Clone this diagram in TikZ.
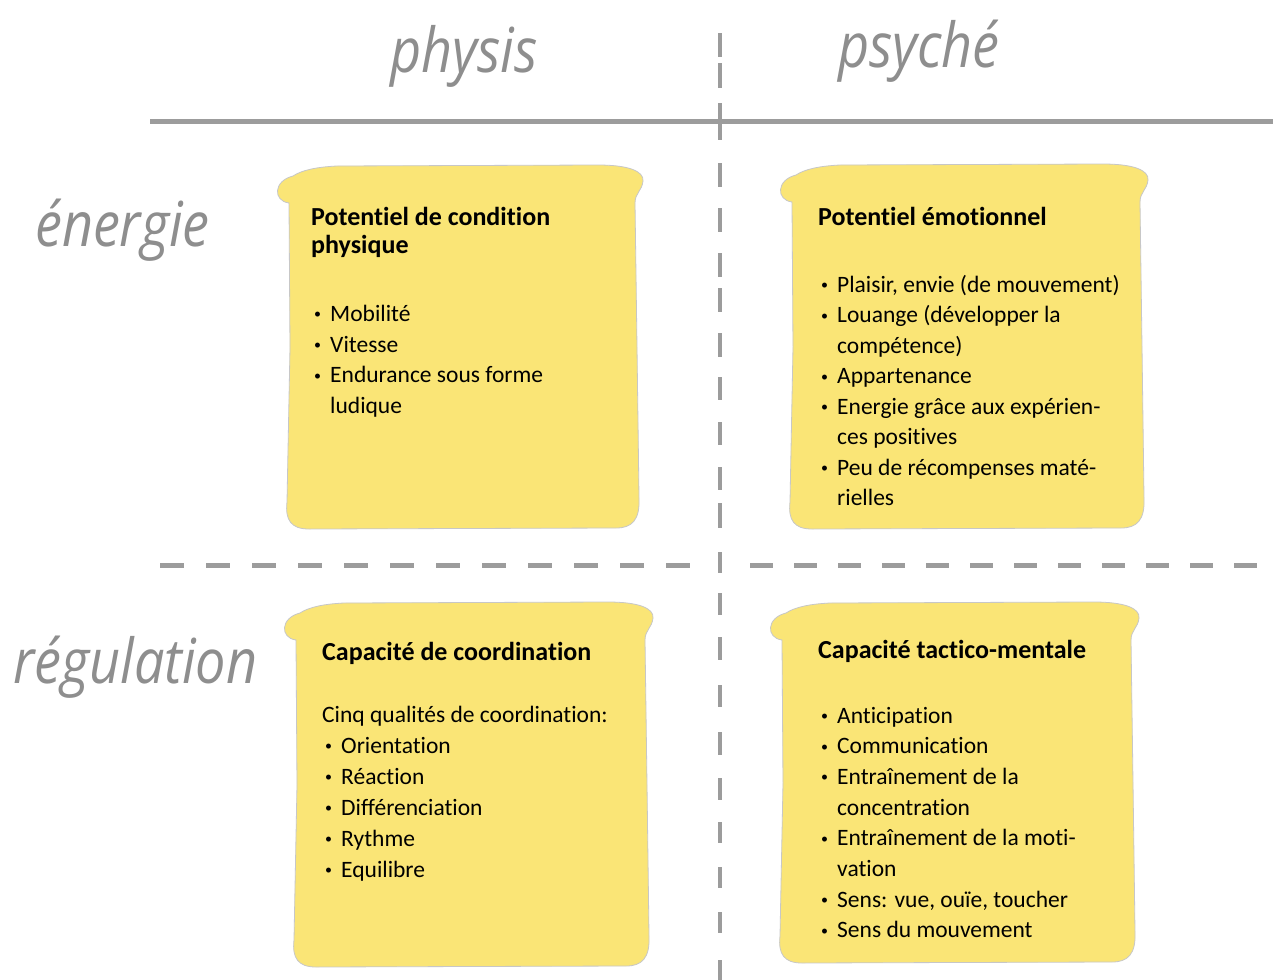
\documentclass[tikz,border=0pt]{standalone}
\usepackage{fontspec}
\setmainfont[Ligatures=CommonOff]{Carlito}
\newfontfamily\hand[FakeStretch=0.87]{Open Sans}
\definecolor{boxyellow}{HTML}{FAE576}
\definecolor{linegray}{HTML}{9C9C9C}
\definecolor{handgray}{HTML}{8E8E8E}
\newcommand\yblob[4]{% L T R B
\path[blob] ({#1+2},{#2+36})
 .. controls ({#1-14},{#2+34}) and ({#1-14},{#2+14}) .. ({#1+6},{#2+9})
 .. controls ({#1+15},{#2+3}) and ({#1+30},{#2}) .. ({#1+50},{#2-1})
 -- ({#3-40},{#2-2})
 .. controls ({#3-10},{#2-2}) and ({#3+6},{#2+4}) .. ({#3+5},{#2+14})
 .. controls ({#3+4},{#2+24}) and ({#3-3},{#2+26}) .. ({#3-3},{#2+36})
 -- ({#3-1},{(#2+#4)/2}) -- ({#3+1},{#4-30})
 .. controls ({#3+2},{#4-8}) and ({#3-6},{#4}) .. ({#3-22},{#4})
 -- ({#1+22},{#4+1})
 .. controls ({#1+4},{#4+1}) and ({#1-2},{#4-8}) .. ({#1},{#4-26})
 -- ({#1+3},{(#2+#4)/2}) -- cycle;}
\newcommand\bul{\raisebox{0.22ex}{\fontsize{14}{14}\selectfont•}}
\begin{document}
\begin{tikzpicture}[x=1pt,y=-1pt,
  blob/.style={fill=boxyellow, draw=black!22, line width=0.8pt},
  txt/.style={anchor=base west, inner sep=0pt, font=\fontsize{23.5}{31}\selectfont},
  ttl/.style={anchor=base west, inner sep=0pt, font=\fontsize{26}{31}\selectfont\bfseries},
  hw/.style={anchor=base west, inner sep=0pt, text=handgray, font=\hand\itshape\fontsize{62}{64}\selectfont},
  rule/.style={draw=linegray, line width=5pt},
  vdash/.style={draw=linegray, line width=4.5pt}]
\useasboundingbox (0,0) rectangle (1275,980);
\fill[white] (0,0) rectangle (1275,980);

% axis lines
\draw[rule] (150,121) -- (1273,121);
\foreach \a/\b in {33/57,63/88,103/140,163/187,208/232,253/277,288/312,333/357,377/400,422/445,467/490,503/528,552/573,593/615,637/660,685/707,732/755,778/800,822/843,867/888,912/933,960/980}
  \draw[vdash] (720,\a) -- (720,\b);
\draw[rule, dash pattern=on 24pt off 22pt] (160,565) -- (700,565);
\draw[rule, dash pattern=on 23pt off 21pt] (750,565) -- (1275,565);

% headings
\node[hw] (physis) at (390,72) {physis};
\node[hw] (psyche) at (838,67) {psyché};
\node[hw] (energie) at (35,246) {énergie};
\node[hw] (regulation) at (13,683) {régulation};

% boxes
\yblob{287}{167}{638}{528}
\yblob{790}{166}{1143}{528}
\yblob{294}{604}{648}{966}
\yblob{780}{604}{1134}{962}

% top-left box
\node[ttl] (tlt1) at (311,225) {Potentiel de condition};
\node[ttl] (tlt2) at (311,253) {physique};
\node[txt] (tlb1) at (314,321) {\bul};
\node[txt] (tl1) at (330,321) {Mobilité};
\node[txt] (tlb2) at (314,352) {\bul};
\node[txt] (tl2) at (330,352) {Vitesse};
\node[txt] (tlb3) at (314,382.5) {\bul};
\node[txt] (tl3) at (330,382.5) {Endurance sous forme};
\node[txt] (tl4) at (330,413) {ludique};

% top-right box
\node[ttl] (trt1) at (818,225) {Potentiel émotionnel};
\node[txt] (trb1) at (821,292) {\bul};
\node[txt] (tr1) at (837,292) {Plaisir, envie (de mouvement)};
\node[txt] (trb2) at (821,322.5) {\bul};
\node[txt] (tr2) at (837,322.5) {Louange (développer la};
\node[txt] (tr3) at (837,353) {compétence)};
\node[txt] (trb4) at (821,383.5) {\bul};
\node[txt] (tr4) at (837,383.5) {Appartenance};
\node[txt] (trb5) at (821,414) {\bul};
\node[txt] (tr5) at (837,414) {Energie grâce aux expérien-};
\node[txt] (tr6) at (837,444.5) {ces positives};
\node[txt] (trb7) at (821,475) {\bul};
\node[txt] (tr7) at (837,475) {Peu de récompenses maté-};
\node[txt] (tr8) at (837,505.5) {rielles};

% bottom-left box
\node[ttl] (blt1) at (322,660) {Capacité de coordination};
\node[txt] (bl0) at (322,722) {Cinq qualités de coordination:};
\node[txt] (blb1) at (325,753) {\bul};
\node[txt] (bl1) at (341,753) {Orientation};
\node[txt] (blb2) at (325,784) {\bul};
\node[txt] (bl2) at (341,784) {Réaction};
\node[txt] (blb3) at (325,815) {\bul};
\node[txt] (bl3) at (341,815) {Différenciation};
\node[txt] (blb4) at (325,846) {\bul};
\node[txt] (bl4) at (341,846) {Rythme};
\node[txt] (blb5) at (325,877) {\bul};
\node[txt] (bl5) at (341,877) {Equilibre};

% bottom-right box
\node[ttl] (brt1) at (818,658) {Capacité tactico-mentale};
\node[txt] (brb1) at (821,723) {\bul};
\node[txt] (br1) at (837,723) {Anticipation};
\node[txt] (brb2) at (821,753.7) {\bul};
\node[txt] (br2) at (837,753.7) {Communication};
\node[txt] (brb3) at (821,784.4) {\bul};
\node[txt] (br3) at (837,784.4) {Entraînement de la};
\node[txt] (br4) at (837,815.1) {concentration};
\node[txt] (brb5) at (821,845.8) {\bul};
\node[txt] (br5) at (837,845.8) {Entraînement de la moti-};
\node[txt] (br6) at (837,876.5) {vation};
\node[txt] (brb7) at (821,907.2) {\bul};
\node[txt] (br7) at (837,907.2) {Sens: vue, ouïe, toucher};
\node[txt] (brb8) at (821,937.9) {\bul};
\node[txt] (br8) at (837,937.9) {Sens du mouvement};
\end{tikzpicture}
\end{document}
